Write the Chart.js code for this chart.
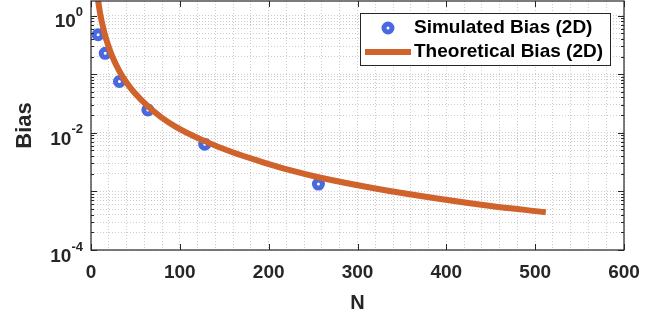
<!DOCTYPE html>
<html>
<head>
<meta charset="utf-8">
<script src="https://cdn.jsdelivr.net/npm/chart.js@4/dist/chart.umd.min.js"></script>
<style>
  html, body { margin: 0; padding: 0; background: #fff; }
  #wrap { width: 652px; height: 317px; }
</style>
</head>
<body>
<div id="wrap"><canvas id="biasChart" width="652" height="317"></canvas></div>
<script>
// valores
const simN = [8, 16, 32, 64, 128, 256];
const simBias = [0.47, 0.227, 0.075, 0.0245, 0.0064, 0.00133];

const theoN = [7, 8, 10, 12, 16, 20, 24, 32, 40, 48, 64, 80, 96, 128, 160, 192, 224, 256, 320, 384, 448, 512];
const theoBias = [2.35, 1.8, 1.15, 0.80, 0.45, 0.29, 0.20, 0.112, 0.072, 0.050, 0.0283, 0.018, 0.0125, 0.0072, 0.0046, 0.0032, 0.0023, 0.00174, 0.00112, 0.00078, 0.00057, 0.00044];

const xTickLabels = [0, 100, 200, 300, 400, 500, 600];
const yLabelExps = [-4, -2, 0];
const legendLabels = ['Simulated Bias (2D)', 'Theoretical Bias (2D)'];

const BLUE = '#4a68e0';
const ORANGE = '#d0622c';
const INK = '#262626';
const FONT = '"Liberation Sans", Arial, sans-serif';

// decadas e subdivisoes para a grade do eixo log
function logGridValues(minExp, maxVal) {
  const vals = [];
  for (let e = minExp; e <= 1; e++) {
    for (let k = 1; k <= 9; k++) {
      const v = k * Math.pow(10, e);
      if (v <= maxVal + 1e-12) vals.push(v);
    }
  }
  return vals;
}

const matlabDecor = {
  id: 'matlabDecor',
  afterDraw(chart) {
    const { ctx, chartArea: a, scales } = chart;
    const xs = scales.x, ys = scales.y;
    ctx.save();

    // caixa do eixo
    ctx.strokeStyle = INK;
    ctx.lineWidth = 1.2;
    ctx.strokeRect(a.left, a.top, a.right - a.left, a.bottom - a.top);

    // marcas internas
    ctx.lineWidth = 1;
    xTickLabels.forEach(v => {
      const px = Math.round(xs.getPixelForValue(v)) + 0.5;
      ctx.beginPath();
      ctx.moveTo(px, a.bottom); ctx.lineTo(px, a.bottom - 6);
      ctx.moveTo(px, a.top); ctx.lineTo(px, a.top + 6);
      ctx.stroke();
    });
    logGridValues(-4, ys.max).forEach(v => {
      const py = Math.round(ys.getPixelForValue(v)) + 0.5;
      const isMajor = Math.abs(Math.log10(v) - Math.round(Math.log10(v))) < 1e-9;
      const len = isMajor ? 6 : 3;
      ctx.beginPath();
      ctx.moveTo(a.left, py); ctx.lineTo(a.left + len, py);
      ctx.moveTo(a.right, py); ctx.lineTo(a.right - len, py);
      ctx.stroke();
    });

    // rotulos do eixo x
    ctx.fillStyle = INK;
    ctx.font = 'bold 19px ' + FONT;
    ctx.textAlign = 'center';
    ctx.textBaseline = 'middle';
    xTickLabels.forEach(v => {
      ctx.fillText(String(v), xs.getPixelForValue(v), a.bottom + 23);
    });

    // rotulos do eixo y (10 com expoente)
    yLabelExps.forEach(e => {
      const py = ys.getPixelForValue(Math.pow(10, e));
      const sup = String(e);
      ctx.font = 'bold 13px ' + FONT;
      const supW = ctx.measureText(sup).width;
      const right = a.left - 8;
      ctx.textAlign = 'left';
      ctx.fillText(sup, right - supW, py - 3);
      ctx.font = 'bold 19px ' + FONT;
      ctx.textAlign = 'right';
      ctx.fillText('10', right - supW, py + 6.5);
    });

    // titulos
    ctx.font = 'bold 20px ' + FONT;
    ctx.textAlign = 'center';
    ctx.fillText('N', (a.left + a.right) / 2, 303);
    ctx.save();
    ctx.translate(25, (a.top + a.bottom) / 2);
    ctx.rotate(-Math.PI / 2);
    ctx.font = 'bold 22px ' + FONT;
    ctx.fillText('Bias', 0, 0);
    ctx.restore();

    // legenda
    const lx = 360, ly = 13, lw = 250, lh = 52;
    ctx.fillStyle = '#fff';
    ctx.fillRect(lx, ly, lw, lh);
    ctx.strokeStyle = INK;
    ctx.lineWidth = 1;
    ctx.strokeRect(lx + 0.5, ly + 0.5, lw, lh);

    const simDs = chart.data.datasets[0];
    const theoDs = chart.data.datasets[1];
    ctx.beginPath();
    ctx.arc(388, 28, simDs.pointRadius, 0, Math.PI * 2);
    ctx.fillStyle = simDs.pointBackgroundColor;
    ctx.fill();
    ctx.lineWidth = simDs.pointBorderWidth;
    ctx.strokeStyle = simDs.pointBorderColor;
    ctx.stroke();

    ctx.beginPath();
    ctx.moveTo(365, 52); ctx.lineTo(411, 52);
    ctx.lineWidth = theoDs.borderWidth;
    ctx.strokeStyle = theoDs.borderColor;
    ctx.stroke();

    ctx.fillStyle = '#000';
    ctx.font = 'bold 19px ' + FONT;
    ctx.textAlign = 'left';
    ctx.fillText(legendLabels[0], 414, 28);
    ctx.fillText(legendLabels[1], 414, 52);

    ctx.restore();
  }
};

const gridStyle = {
  color: '#cdcdcd',
  lineWidth: 1,
  drawTicks: false
};

new Chart(document.getElementById('biasChart'), {
  type: 'line',
  data: {
    datasets: [
      {
        label: legendLabels[0],
        data: simN.map((n, i) => ({ x: n, y: simBias[i] })),
        showLine: false,
        pointRadius: 4,
        pointBorderWidth: 5,
        pointBackgroundColor: '#ffffff',
        pointBorderColor: BLUE,
        order: 1
      },
      {
        label: legendLabels[1],
        data: theoN.map((n, i) => ({ x: n, y: theoBias[i] })),
        borderColor: ORANGE,
        borderWidth: 6,
        pointRadius: 0,
        cubicInterpolationMode: 'monotone',
        fill: false,
        order: 0
      }
    ]
  },
  options: {
    responsive: false,
    devicePixelRatio: 1,
    animation: false,
    layout: { autoPadding: false, padding: { left: 91, right: 28, top: 1, bottom: 67 } },
    plugins: {
      legend: { display: false },
      tooltip: { enabled: false }
    },
    scales: {
      x: {
        type: 'linear',
        min: 0,
        max: 600,
        afterBuildTicks: scale => {
          const t = [];
          for (let v = 0; v <= 600; v += 20) t.push({ value: v });
          scale.ticks = t;
        },
        ticks: { display: false },
        grid: gridStyle,
        border: { display: false, dash: [1, 2] }
      },
      y: {
        type: 'logarithmic',
        min: 1e-4,
        max: 1.77,
        afterBuildTicks: scale => {
          scale.ticks = logGridValues(-4, 1.77).map(v => ({ value: v }));
        },
        ticks: { display: false },
        grid: gridStyle,
        border: { display: false, dash: [1, 2] }
      }
    }
  },
  plugins: [matlabDecor]
});
</script>
</body>
</html>
